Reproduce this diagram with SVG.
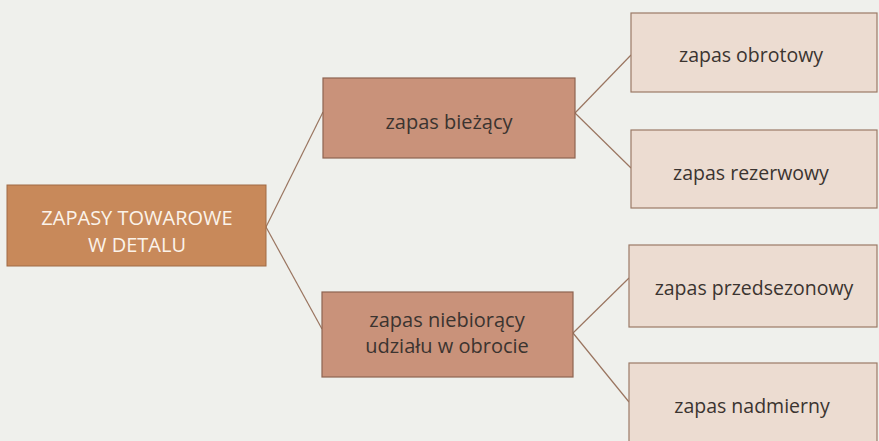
<svg xmlns="http://www.w3.org/2000/svg" width="879" height="441" viewBox="0 0 879 441">
<style>
.bg{fill:#eff0ec}
.root{fill:#c8895a;stroke:#a06a45;stroke-width:1}
.mid{fill:#c9927a;stroke:#8e6450;stroke-width:1.2}
.leaf{fill:#ecdcd1;stroke:#9b7a66;stroke-width:1.2}
.conn line{stroke:#9a7560;stroke-width:1.2}
text{font-family:"Open Sans","Noto Sans","Liberation Sans",sans-serif;text-anchor:middle}
.rt{fill:#fbf3ea;font-size:20px}
.mt{fill:#3b3430;font-size:20px}
.lt{fill:#3b3430;font-size:19.5px}
</style>
<rect class="bg" x="0" y="0" width="879" height="441"/>
<g id="connectors" class="conn">
<line x1="266" y1="227" x2="323" y2="112"/>
<line x1="266" y1="227" x2="322" y2="329"/>
<line x1="575" y1="113" x2="631" y2="55"/>
<line x1="575" y1="113" x2="631" y2="168"/>
<line x1="573" y1="333" x2="629" y2="278"/>
<line x1="573" y1="333" x2="629" y2="402"/>
</g>
<g id="root">
<rect class="root" x="7" y="185" width="259" height="81"/>
<text class="rt" x="137" y="225">ZAPASY TOWAROWE</text>
<text class="rt" x="137" y="252">W DETALU</text>
</g>
<g id="biezacy">
<rect class="mid" x="323" y="78" width="252" height="80"/>
<text class="mt" x="449" y="129">zapas bieżący</text>
</g>
<g id="niebiorący">
<rect class="mid" x="322" y="292" width="251" height="85"/>
<text class="mt" x="447" y="327">zapas niebiorący</text>
<text class="mt" x="447" y="353">udziału w obrocie</text>
</g>
<g id="obrotowy">
<rect class="leaf" x="631" y="13" width="246" height="79"/>
<text class="lt" x="751" y="62">zapas obrotowy</text>
</g>
<g id="rezerwowy">
<rect class="leaf" x="631" y="130" width="246" height="78"/>
<text class="lt" x="751" y="180">zapas rezerwowy</text>
</g>
<g id="przedsezonowy">
<rect class="leaf" x="629" y="245" width="248" height="82"/>
<text class="lt" x="754" y="295">zapas przedsezonowy</text>
</g>
<g id="nadmierny">
<rect class="leaf" x="629" y="363" width="248" height="90"/>
<text class="lt" x="752" y="413">zapas nadmierny</text>
</g>
</svg>
